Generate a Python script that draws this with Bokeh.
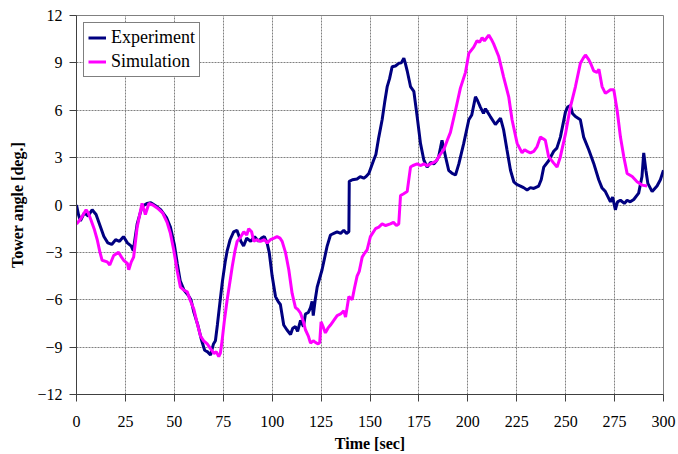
from bokeh.plotting import figure
from bokeh.models import Range1d, FixedTicker, Legend, LegendItem
from bokeh.embed import file_html
from bokeh.resources import INLINE

# ---- data ----
exp_time = [0, 1, 2, 4, 6, 8, 10, 12, 14, 16, 18, 20, 22, 24, 26, 28, 29, 31, 33.5, 36, 38, 41, 43, 46, 48,
            50, 51.5, 53, 55, 57, 58.5, 60, 62, 64, 65.5, 67, 68.5, 70, 71, 72, 73, 74.5, 76, 77, 78.5,
            80.3, 82, 84, 85.4, 87, 89, 91, 93, 94.5, 96, 97.4, 98.5, 100, 101.7, 103, 104.2, 105.9,
            107.5, 109.4, 110.5, 111.9, 113, 114.5, 116, 117, 118.5, 119.6, 120.4, 121, 122, 123,
            125.5, 128.1, 129.8, 131.5, 133.2, 135, 136.6, 138, 139.2, 139.4, 141, 143.4, 145, 146.8,
            148, 149.4, 151.9, 153, 154.5, 156.2, 157.5, 158.8, 160, 161.3, 163, 164.7, 166, 167.3,
            168, 169, 170.7, 172.4, 174.1, 175.8, 177.5, 179.2, 181, 182.6, 184, 185.1, 186, 186.8,
            188.6, 190.2, 192, 193.7, 195.4, 197.9, 200.5, 202, 203.9, 205, 206.4, 208, 209, 211.5,
            214.1, 216.7, 218.3, 220, 221.8, 223.5, 225, 226.9, 228.5, 230.3, 232, 233.7, 236.2,
            237.5, 238.8, 241.3, 243.9, 245.5, 247.3, 249.9, 251, 252.4, 253.5, 255, 257.5, 259.2,
            261.8, 264.3, 266.9, 268.5, 270.3, 272.9, 274, 275.4, 276.5, 278, 280, 281.4, 283, 284.8,
            287.3, 289, 289.9, 291, 292, 294.2, 296.7, 298.4, 300]
exp_angle = [0.0, -0.6, -1.0, -0.5, -0.7, -0.3, -0.6, -1.3, -2.0, -2.4, -2.5, -2.2, -2.3, -2.0, -2.4,
             -2.6, -2.9, -1.2, -0.1, 0.1, 0.15, -0.1, -0.3, -0.8, -1.4,
             -2.5, -3.7, -4.8, -5.4, -5.7, -6.0, -6.8, -7.6, -8.6, -9.2, -9.3, -9.5, -8.8, -8.6, -7.6,
             -6.5, -4.9, -3.6, -2.9, -2.2,
             -1.7, -1.6, -2.3, -2.6, -2.1, -2.3, -2.0, -2.3, -2.1, -2.0, -2.4, -3.0, -4.5, -5.8, -6.1,
             -6.3, -7.6,
             -7.9, -8.2, -7.8, -7.7, -8.0, -7.3, -7.7, -6.9, -6.8, -6.5, -6.1, -7.0, -6.0, -5.2,
             -4.1, -2.6, -1.9, -1.8, -1.7, -1.8, -1.6, -1.8, -1.7, 1.5, 1.6, 1.65, 1.8, 1.7,
             1.8, 2.0, 2.85, 3.2, 4.3, 5.4, 6.5, 7.5, 8.0, 8.75, 8.8, 8.97, 9.0, 9.3,
             9.0, 8.5, 7.5, 7.2, 5.6, 3.9, 2.85, 2.4, 2.7, 2.6, 2.8, 3.06, 3.6, 4.1,
             3.06, 2.2, 2.0, 1.9, 2.6, 3.9, 5.4, 5.7, 6.85, 6.6, 6.2, 5.8, 6.1, 5.6,
             5.1, 5.5, 4.75, 3.5, 2.2, 1.47, 1.3, 1.2, 1.1, 0.95, 1.1, 1.05, 1.2,
             1.6, 2.4, 2.8, 3.4, 3.6, 4.3, 5.9, 6.2, 6.3, 5.8, 5.6, 5.4, 4.3,
             3.5, 2.65, 1.6, 1.1, 0.85, 0.2, 0.5, -0.3, 0.2, 0.3, 0.1, 0.3, 0.2, 0.35,
             0.75, 1.8, 3.3, 2.2, 1.37, 0.85, 1.2, 1.6, 2.2]

sim_time = [0, 2, 4.9, 6, 7.4, 9, 10.6, 12, 13.1, 15.7, 17, 19, 21.5, 23, 24.1, 26, 26.7, 28, 29.2, 31,
            33.5, 35.2, 37, 39, 41.4, 44, 46.3, 48, 49.7, 51.5, 53.1, 55, 56.6, 58, 60, 61.5, 63.4,
            65, 66.8, 68.5, 70.2, 71.5, 72.7, 73.5, 74.4, 75.5, 77, 78.5, 79.6, 81, 82.1, 84, 85.5,
            87, 88, 89.5, 90.6, 92, 94, 96, 97.5, 99.1, 101, 102.5, 104, 105.1, 106.8, 108.5, 110.2,
            111.9, 113, 114.5, 116, 117, 118.5, 119.6, 121, 122.1, 123.5, 124.3, 125, 126, 127.2,
            128.5, 129.8, 131.5, 133.2, 135, 136.6, 137.5, 139.2, 140.9, 142, 143.4, 144.5, 146,
            147, 148.5, 150.2, 152.8, 154.5, 156.2, 158, 160.4, 162, 163.5, 164.7, 165.6, 167, 169,
            170.7, 172, 174.1, 176, 177.5, 179.2, 181, 182.6, 184, 185.1, 187.7, 189.5, 191.1,
            193.7, 196.2, 198.8, 200.5, 203, 204.7, 206, 207.3, 208.5, 210.7, 212, 213.2, 215.8,
            218.3, 220.9, 222.6, 225.2, 227.7, 229, 230.3, 232, 233.7, 235.4, 237.1, 238.5, 239.6,
            241.3, 243.9, 245.6, 247.3, 249.9, 252.4, 255, 257.5, 259, 260.1, 261.8, 263, 264.3,
            266, 267, 268.6, 270.3, 272.9, 274.6, 276.3, 278, 279.7, 281.4, 284, 286.5, 289, 291.6]
sim_angle = [-1.2, -0.9, -0.3, -0.5, -0.95, -1.5, -2.2, -3.0, -3.5, -3.6, -3.8, -3.2, -3.0, -3.3, -3.5,
             -3.7, -4.1, -3.6, -3.3, -1.4,
             0.1, -0.6, 0.1, 0.0, -0.2, -0.5, -1.1, -1.8, -2.85, -4.2, -5.2, -5.4, -5.5, -6.0, -6.6,
             -7.4, -8.3,
             -8.6, -8.8, -9.1, -9.4, -9.3, -9.6, -9.4, -8.6, -7.4, -6.0, -4.8, -3.9, -2.9, -2.3,
             -2.0, -1.7,
             -1.9, -1.5, -1.7, -2.3, -2.2, -2.3, -2.2, -2.4, -2.2, -2.1, -2.0, -2.1, -2.3, -3.0,
             -4.1, -5.6,
             -6.5, -6.6, -6.85, -7.4, -7.9, -8.3, -8.75, -8.6, -8.7, -8.8, -8.7, -7.4, -7.7, -8.1,
             -7.8, -7.6, -7.3, -7.0, -6.9, -6.7, -7.1, -5.8, -6.0, -5.3, -4.5, -4.2, -3.3,
             -3.1, -2.85, -2.0, -1.5, -1.4, -1.2, -1.3, -1.2, -1.1, -1.3, -1.2, 0.6, 0.7, 0.85,
             2.4, 2.5, 2.6, 2.5, 2.6, 2.5, 2.6, 2.7, 2.8, 3.06, 3.5, 4.1, 4.6,
             6.0, 7.4, 8.4, 9.6, 10.0, 10.4, 10.3, 10.6, 10.4, 10.76, 10.5, 10.2, 9.4,
             8.1, 6.85, 5.4, 3.9, 3.3, 3.5, 3.4, 3.3, 3.4, 3.7, 4.3, 4.2, 4.1,
             3.06, 2.65, 2.4, 3.06, 4.5, 6.2, 7.5, 8.97, 9.3, 9.5, 9.2, 8.9, 8.5,
             8.4, 8.6, 7.5, 7.07, 7.3, 7.3, 6.0, 4.3, 3.06, 2.0, 1.8, 1.47, 1.26, 1.2]

x_ticks = [0, 25, 50, 75, 100, 125, 150, 175, 200, 225, 250, 275, 300]
y_ticks = [-12, -9, -6, -3, 0, 3, 6, 9, 12]
series_names = ["Experiment", "Simulation"]

FONT = "'Liberation Serif', 'Times New Roman', serif"

p = figure(width=678, height=454, output_backend="svg", toolbar_location=None,
           x_range=Range1d(0, 300), y_range=Range1d(-12, 12),
           min_border_left=76, min_border_right=15, min_border_top=15, min_border_bottom=60)
p.background_fill_color = "white"
p.border_fill_color = "white"
p.outline_line_color = "#808080"
p.outline_line_width = 1

r_exp = p.line(exp_time, exp_angle, line_color="#000080", line_width=3)
r_sim = p.line(sim_time, sim_angle, line_color="#FF00FF", line_width=3)

for ax, ticks in ((p.xaxis[0], x_ticks), (p.yaxis[0], y_ticks)):
    ax.ticker = FixedTicker(ticks=ticks)
    ax.minor_tick_line_color = None
    ax.major_tick_in = 0
    ax.major_tick_out = 7
    ax.major_tick_line_color = "#404040"
    ax.axis_line_color = "#404040"
    ax.major_label_text_font = FONT
    ax.major_label_text_font_size = "16px"
    ax.major_label_text_color = "black"
    ax.axis_label_text_font = FONT
    ax.axis_label_text_font_size = "16px"
    ax.axis_label_text_font_style = "bold"
    ax.axis_label_text_color = "black"

p.xaxis.axis_label = "Time [sec]"
p.yaxis.axis_label = "Tower angle [deg.]"
p.xaxis.major_label_standoff = 14
p.xaxis.axis_label_standoff = 5
p.yaxis.major_label_standoff = 7
p.yaxis.axis_label_standoff = 8

p.xgrid.ticker = FixedTicker(ticks=x_ticks)
p.ygrid.ticker = FixedTicker(ticks=y_ticks)
for g in (p.xgrid[0], p.ygrid[0]):
    g.grid_line_color = "#808080"
    g.grid_line_width = 1
    g.grid_line_dash = "2 1"

legend = Legend(items=[LegendItem(label=series_names[0], renderers=[r_exp]),
                       LegendItem(label=series_names[1], renderers=[r_sim])],
                location="top_left")
legend.label_text_font = FONT
legend.label_text_font_size = "18px"
legend.label_text_color = "black"
legend.border_line_color = "black"
legend.border_line_width = 1
legend.background_fill_color = "white"
legend.background_fill_alpha = 1
legend.padding = 4
legend.spacing = 3
legend.label_height = 21
legend.glyph_height = 21
legend.glyph_width = 18
legend.label_standoff = 5
legend.margin = 7
p.add_layout(legend, "center")

open("out.html", "w").write(file_html(p, INLINE))
